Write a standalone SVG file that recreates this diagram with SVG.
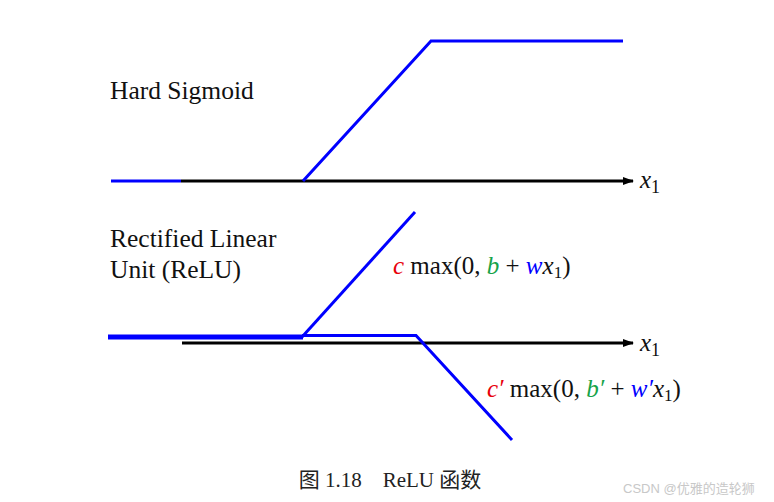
<svg xmlns="http://www.w3.org/2000/svg" width="774" height="502" viewBox="0 0 774 502">
<style>
.lbl{font-family:"Liberation Serif","Times New Roman",serif;font-size:25.5px;fill:#111}
.math{font-family:"Liberation Serif","DejaVu Serif",serif;font-size:25px;fill:#111}
.it{font-style:italic}
.blue{stroke:#0000ff;fill:none;stroke-width:3;stroke-linejoin:miter}
.axis{stroke:#000;stroke-width:3;fill:none}
.cap{font-family:"Liberation Serif","Noto Sans CJK SC",serif;font-size:21px;fill:#222}
.wm{font-family:"Liberation Sans","Noto Sans CJK SC",sans-serif;font-size:13px;fill:#c8c8c8}
</style>
<defs>
<marker id="arr" markerWidth="12" markerHeight="8" refX="10" refY="4" orient="auto" markerUnits="userSpaceOnUse">
<path d="M0,0 L11,4 L0,8 Z" fill="#000"/>
</marker>
</defs>
<g id="connectors">
<line class="axis" x1="181" y1="181" x2="633" y2="181" marker-end="url(#arr)"/>
<line class="axis" x1="182" y1="343" x2="633" y2="343" marker-end="url(#arr)"/>
</g>
<g id="hard-sigmoid">
<line class="blue" x1="111" y1="181" x2="181" y2="181"/>
<polyline class="blue" points="303,181 431,41 623,41"/>
<text class="lbl" x="110" y="99">Hard Sigmoid</text>
<text class="math" x="640" y="188" font-size="26"><tspan class="it">x</tspan><tspan font-size="18" dy="5">1</tspan></text>
</g>
<g id="relu">
<line stroke="#0000ff" stroke-width="5" x1="108" y1="337" x2="303" y2="337"/>
<polyline class="blue" points="302,337 415,212"/>
<polyline class="blue" points="302,335.5 416,335.5 512,440"/>
<text class="lbl" x="110" y="247">Rectified Linear</text>
<text class="lbl" x="110" y="278">Unit (ReLU)</text>
<text class="math" x="640" y="351" font-size="26"><tspan class="it">x</tspan><tspan font-size="18" dy="5">1</tspan></text>
</g>
<g id="formula1">
<text class="math" x="393" y="274"><tspan class="it" fill="#e8000b">c</tspan> max(0, <tspan class="it" fill="#16a34a">b</tspan> + <tspan class="it" fill="#0000ff">w</tspan><tspan class="it">x</tspan><tspan font-size="17" dy="4">1</tspan><tspan dy="-4">)</tspan></text>
</g>
<g id="formula2">
<text class="math" x="487" y="397"><tspan class="it" fill="#e8000b">c′</tspan> max(0, <tspan class="it" fill="#16a34a">b′</tspan> + <tspan class="it" fill="#0000ff">w′</tspan><tspan class="it">x</tspan><tspan font-size="17" dy="4">1</tspan><tspan dy="-4">)</tspan></text>
</g>
<g id="caption">
<text class="cap" x="390" y="487" text-anchor="middle" xml:space="preserve">图 1.18    ReLU 函数</text>
</g>
<g id="watermark">
<text class="wm" x="623" y="493">CSDN @优雅的造轮狮</text>
</g>
</svg>
